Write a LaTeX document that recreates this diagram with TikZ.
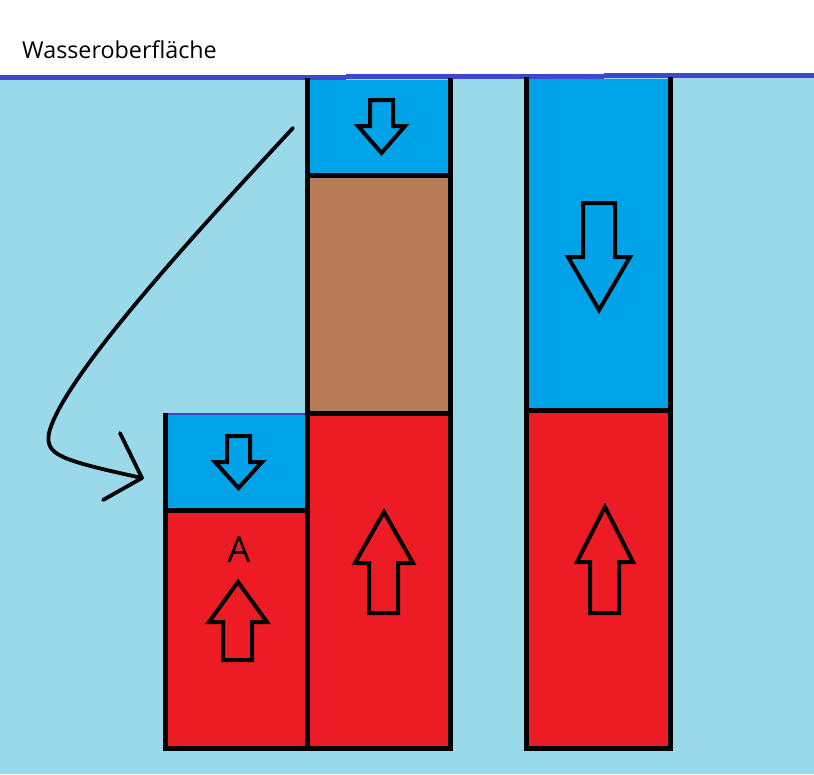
\documentclass[tikz,border=0pt]{standalone}
\usepackage{fontspec}
\setmainfont{Open Sans}
\definecolor{water}{HTML}{99D9EA}
\definecolor{boxblue}{HTML}{00A2E8}
\definecolor{boxred}{HTML}{ED1C24}
\definecolor{boxbrown}{HTML}{B97A57}
\definecolor{surface}{HTML}{3F48CC}
\tikzset{
  outline/.style={draw=black, line width=5pt, line cap=rect},
  blockarrow/.style={draw=black, line width=4pt, line join=miter},
  curvearrow/.style={draw=black, line width=3.8pt, line cap=round, line join=round},
}
\begin{document}
\begin{tikzpicture}[x=1pt,y=-1pt]
\useasboundingbox (0,0) rectangle (814,774);
\fill[white] (0,0) rectangle (814,774);
\fill[water] (0,78) rectangle (814,774);
% water surface
\draw[surface, line width=5pt] (0,77.5) -- (346,77.5);
\draw[surface, line width=5pt] (346,76.5) -- (604,76.5);
\draw[surface, line width=5pt] (604,75.5) -- (814,75.5);
\node[anchor=base west, inner sep=0pt, font=\fontsize{23.3}{28}\selectfont] (title) at (22,58) {Wasseroberfläche};

% middle column
\fill[boxblue] (307,80) rectangle (450,175);
\fill[boxbrown] (307,175) rectangle (450,413);
\fill[boxred] (307,413) rectangle (450,748);
% right column
\fill[boxblue] (526,79) rectangle (670,410);
\fill[boxred] (526,410) rectangle (670,748);
% left column
\fill[boxblue] (165,414) rectangle (307,510);
\fill[boxred] (165,510) rectangle (307,748);
\draw[surface, line width=1.2pt] (165,414) -- (309,414);

% outlines
\draw[outline] (307,80) -- (307,748);
\draw[outline] (450,80) -- (450,748);
\draw[outline] (307,175) -- (450,175);
\draw[outline] (307,413) -- (450,413);
\draw[outline] (165,748) -- (450,748);
\draw[outline] (165,415) -- (165,748);
\draw[outline] (165,510) -- (307,510);
\draw[outline] (526,79) -- (526,748);
\draw[outline] (670,79) -- (670,748);
\draw[outline] (526,410) -- (670,410);
\draw[outline] (526,748) -- (670,748);

% down arrows
\draw[blockarrow] (370,100) -- (393,100) -- (393,126) -- (405,126) -- (381.5,153) -- (358,126) -- (370,126) -- cycle;
\draw[blockarrow] (227,436) -- (250,436) -- (250,462) -- (262,462) -- (238.5,488) -- (215,462) -- (227,462) -- cycle;
\draw[blockarrow] (583,203) -- (615,203) -- (615,257) -- (630,257) -- (599,310) -- (568,257) -- (583,257) -- cycle;
% up arrows
\draw[blockarrow] (223,660) -- (252,660) -- (252,622) -- (267,622) -- (238,582) -- (209,622) -- (223,622) -- cycle;
\draw[blockarrow] (369,613) -- (398,613) -- (398,563) -- (413,563) -- (384,512) -- (355,563) -- (369,563) -- cycle;
\draw[blockarrow] (590,613) -- (619,613) -- (619,562) -- (633,562) -- (605,507) -- (577,562) -- (590,562) -- cycle;

\node[font=\fontsize{36}{42}\selectfont, inner sep=0pt, anchor=base] (A) at (239,562) {A};

% curved arrow
\coordinate (cstart) at (293,128);
\coordinate (cturn) at (49,433);
\coordinate (cend) at (142,478);
\draw[curvearrow] (cstart) .. controls (200,228) and (62,378) .. (cturn)
  .. controls (45,455) and (60,460) .. (cend);
\draw[curvearrow] (120,433) -- (cend) -- (103,500);
\end{tikzpicture}
\end{document}
